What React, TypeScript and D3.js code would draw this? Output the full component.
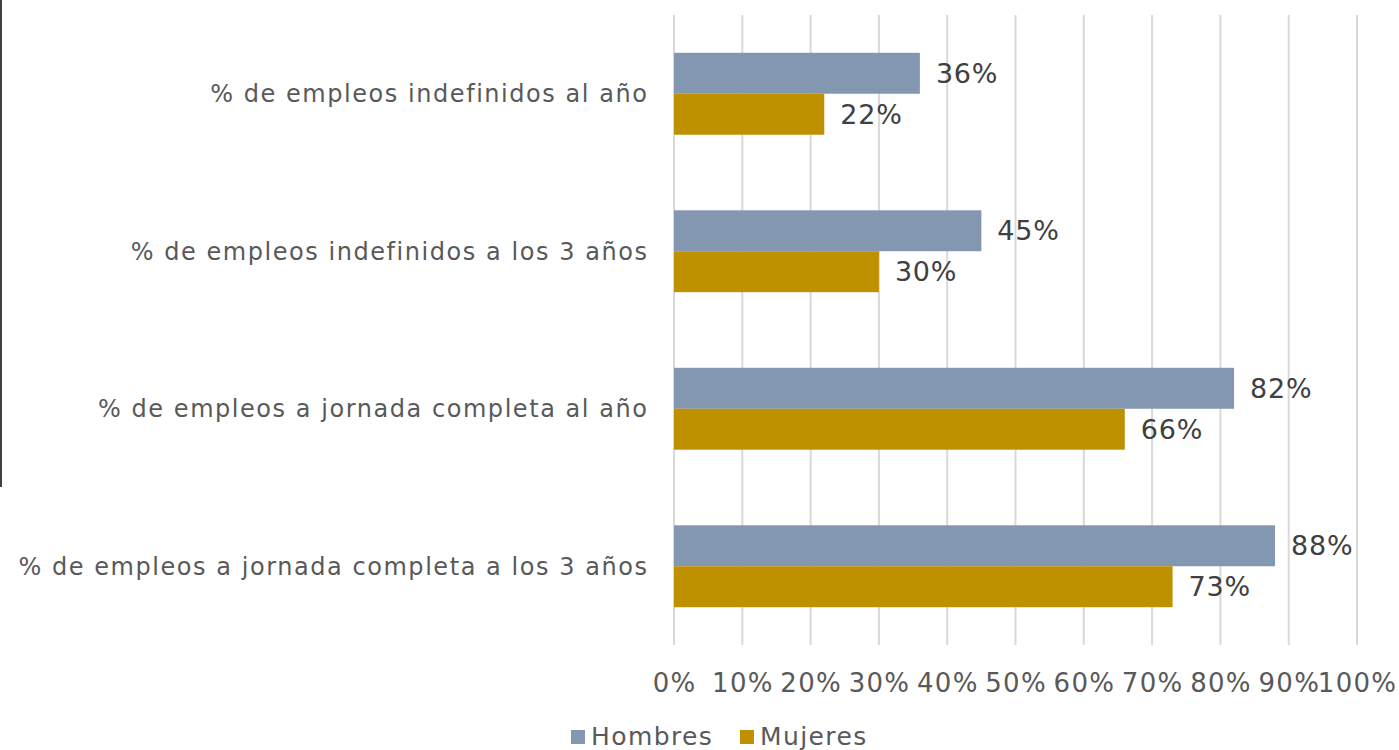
import React from "react";
import * as d3 from "d3";

const categories = [
  "% de empleos indefinidos al año",
  "% de empleos indefinidos a los 3 años",
  "% de empleos a jornada completa al año",
  "% de empleos a jornada completa a los 3 años",
];
const seriesNames = ["Hombres", "Mujeres"];
const hombres = [36, 45, 82, 88];
const mujeres = [22, 30, 66, 73];
const ticks = [0, 10, 20, 30, 40, 50, 60, 70, 80, 90, 100];
const colors = ["#8497B0", "#BF9000"];

export default function App() {
  const W = 1399, H = 750;
  const x = d3.scaleLinear().domain([0, 100]).range([674, 1357]);
  const y = d3.scaleBand<string>().domain(categories).range([15, 645]).paddingInner(0.48).paddingOuter(0.24);
  const sub = d3.scaleBand<string>().domain(seriesNames).range([0, y.bandwidth()]);
  const series = [hombres, mujeres];
  const font = "DejaVu Sans, Verdana, sans-serif";
  return (
    <svg width={W} height={H} style={{ position: "absolute", left: 0, top: 0, background: "#fff" }} fontFamily={font}>
      <rect x={0} y={0} width={W} height={H} fill="#fff" />
      <line x1={1} x2={1} y1={0} y2={487} stroke="#404040" strokeWidth={2} />
      {ticks.map((t) => (
        <line key={t} x1={x(t)} x2={x(t)} y1={15} y2={645} stroke="#D9D9D9" strokeWidth={2} />
      ))}
      {categories.map((c, i) => (
        <g key={c}>
          {series.map((s, j) => (
            <g key={j}>
              <rect
                x={x(0)}
                y={(y(c) as number) + (sub(seriesNames[j]) as number)}
                width={x(s[i]) - x(0)}
                height={sub.bandwidth()}
                fill={colors[j]}
              />
              <text
                x={x(s[i]) + 16}
                y={(y(c) as number) + (sub(seriesNames[j]) as number) + sub.bandwidth() / 2}
                dy="0.36em"
                fontSize={27}
                letterSpacing={0.8}
                fill="#404040"
              >
                {s[i]}%
              </text>
            </g>
          ))}
          <text
            x={648.5}
            y={(y(c) as number) + y.bandwidth() / 2}
            dy="0.36em"
            textAnchor="end"
            fontSize={24}
            letterSpacing={1.55}
            fill="#595959"
          >
            {c}
          </text>
        </g>
      ))}
      {ticks.map((t) => (
        <text key={t} x={x(t) + 0.6} y={683} dy="0.36em" textAnchor="middle" fontSize={26} letterSpacing={1.3} fill="#595959">
          {t}%
        </text>
      ))}
      {seriesNames.map((n, j) => {
        const lx = [571, 740][j];
        return (
          <g key={n}>
            <rect x={lx} y={730} width={14} height={14} fill={colors[j]} />
            <text x={lx + 20} y={736} dy="0.36em" fontSize={25} letterSpacing={1.4} fill="#595959">
              {n}
            </text>
          </g>
        );
      })}
    </svg>
  );
}
